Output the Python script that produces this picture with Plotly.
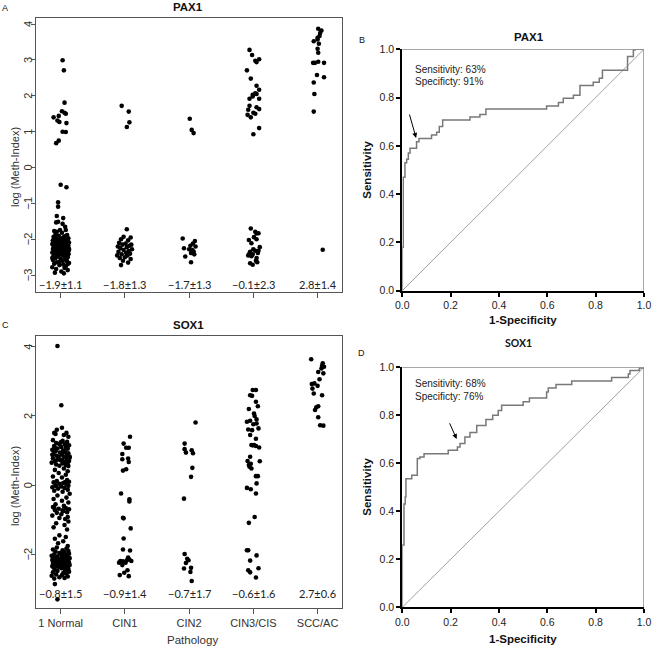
import plotly.graph_objects as go

W, H = 652, 647


def px(x):
    return x / W


def py(y):
    return 1 - y / H


# ---------------- data ----------------
categories = ["1 Normal", "CIN1", "CIN2", "CIN3/CIS", "SCC/AC"]
pax1_stats = ["−1.9±1.1", "−1.8±1.3", "−1.7±1.3", "−0.1±2.3", "2.8±1.4"]
sox1_stats = ["−0.8±1.5", "−0.9±1.4", "−0.7±1.7", "−0.6±1.6", "2.7±0.6"]
pax1_yticks = [-3, -2, -1, 0, 1, 2, 3, 4]
sox1_yticks = [-2, 0, 2, 4]

# PAX1 log(Meth-Index) per pathology group, with horizontal jitter offsets
pax1_normal_y = [2.99, 2.71, 1.81, 1.40, 1.44, 1.57, 1.53, 1.50, 1.31, 1.27, 1.24, 1.00, 0.99, 0.75, 0.68,
                 -0.48, -0.55, -0.97, -1.09, -1.35, -1.41, -1.51, -1.53, -1.65, -1.74, -1.74, -1.79, -1.57, -1.77,
                 -1.82, -1.85, -1.88, -1.90, -1.92, -1.93, -1.95, -1.96, -1.97, -1.98,
                 -2.00, -2.00, -2.01, -2.02, -2.03, -2.04, -2.05, -2.06, -2.07, -2.08,
                 -2.09, -2.10, -2.10, -2.11, -2.12, -2.13, -2.14, -2.15, -2.16, -2.17,
                 -2.18, -2.19, -2.20, -2.20, -2.21, -2.22, -2.23, -2.24, -2.25, -2.26,
                 -2.27, -2.28, -2.29, -2.30, -2.30, -2.31, -2.32, -2.33, -2.34, -2.35,
                 -2.36, -2.37, -2.38, -2.39, -2.40, -2.41, -2.42, -2.43, -2.44, -2.45,
                 -2.46, -2.48, -2.50, -2.52, -2.54, -2.56, -2.58, -2.60, -2.62, -2.64,
                 -2.66, -2.68, -2.70, -2.72, -2.75, -2.78, -2.80, -2.83, -2.86, -2.90,
                 -2.93, -2.95,
                 -2.02, -2.06, -2.11, -2.15, -2.19, -2.24, -2.28, -2.33, -2.37, -2.42,
                 -2.05, -2.09, -2.14, -2.18, -2.23, -2.27, -2.31, -2.36, -2.40, -2.47,
                 -2.03, -2.13, -2.21, -2.26, -2.35, -2.44, -2.52, -2.57, -2.63, -2.69]
pax1_normal_dx = [0.03, 0.05, 0.06, -0.11, -0.03, 0.02, 0.06, 0.08, -0.05, -0.02, 0.09, 0.03, 0.08, -0.03, -0.07,
                  0.0, 0.09, -0.04, -0.04, -0.06, 0.04, -0.04, -0.07, 0.07, 0.08, -0.01, -0.06, 0.03, -0.10,
                  0.02, -0.08, 0.10, -0.03, 0.06, -0.11, 0.04, -0.06, 0.12, 0.0,
                  -0.09, 0.07, -0.02, 0.11, -0.12, 0.05, -0.05, 0.09, -0.10, 0.01,
                  0.13, -0.07, 0.06, -0.01, 0.10, -0.13, 0.03, -0.04, 0.08, -0.09,
                  0.12, -0.06, 0.0, 0.09, -0.11, 0.05, -0.02, 0.11, -0.08, 0.03,
                  -0.12, 0.07, -0.05, 0.13, -0.03, 0.04, -0.10, 0.10, -0.07, 0.01,
                  0.08, -0.13, 0.06, -0.01, 0.12, -0.09, 0.02, -0.05, 0.09, -0.11,
                  0.05, -0.04, 0.11, -0.08, 0.0, 0.07, -0.12, 0.03, 0.10, -0.06,
                  0.13, -0.10, 0.04, -0.02, 0.08, -0.13, 0.06, -0.07, 0.11, 0.01,
                  -0.09, 0.05,
                  0.01, -0.06, 0.08, -0.10, 0.04, 0.11, -0.03, 0.06, -0.08, 0.12,
                  -0.12, 0.03, -0.05, 0.09, -0.01, 0.13, -0.09, 0.05, -0.04, 0.10,
                  0.07, -0.11, 0.02, 0.12, -0.07, 0.04, -0.13, 0.09, -0.02, 0.11]

pax1_cin1_y = [1.72, 1.56, 1.26, 1.13, -1.72, -1.93, -1.95, -2.00, -2.03, -2.10, -2.12, -2.15, -2.15, -2.18,
               -2.20, -2.22, -2.25, -2.28, -2.30, -2.33, -2.35, -2.38, -2.40, -2.42, -2.45, -2.45, -2.50,
               -2.52, -2.55, -2.60, -2.65, -2.72]
pax1_cin1_dx = [-0.05, 0.06, 0.07, 0.03, 0.03, -0.02, 0.09, -0.06, 0.05, -0.09, 0.01, 0.10, -0.04, 0.07,
                -0.11, 0.03, -0.07, 0.11, -0.02, 0.06, -0.10, 0.02, 0.08, -0.05, -0.12, 0.04, 0.0,
                -0.08, 0.09, -0.03, 0.05, -0.06]

pax1_cin2_y = [1.36, 1.05, 0.96, -1.98, -2.05, -2.12, -2.18, -2.25, -2.28, -2.30, -2.34, -2.38, -2.48, -2.42,
               -2.64, -2.20]
pax1_cin2_dx = [0.01, 0.04, 0.07, -0.10, 0.09, 0.06, 0.02, -0.08, 0.0, 0.05, 0.07, 0.03, -0.06, 0.08,
                0.03, 0.10]

pax1_cin3_y = [3.28, 3.14, 2.98, 3.02, 2.94, 2.71, 2.48, 2.28, 2.17, 2.07, 2.03, 2.05, 1.92, 1.92, 1.98,
               1.72, 1.68, 1.63, 1.61, 1.53, 1.47, 1.40, 1.50, 1.10, 0.93,
               -1.70, -1.79, -1.84, -1.83, -1.94, -2.02, -2.00, -2.11, -2.22, -2.28, -2.32, -2.32, -2.39,
               -2.42, -2.45, -2.47, -2.52, -2.67, -2.71, -2.60, -2.64, -2.35, -2.38]
pax1_cin3_dx = [-0.06, -0.02, 0.03, 0.09, 0.05, -0.10, -0.04, 0.05, 0.09, 0.03, -0.01, 0.05, -0.06, 0.09, -0.01,
                -0.06, 0.05, 0.09, -0.08, 0.0, -0.09, -0.04, 0.03, 0.09, 0.0,
                -0.04, 0.03, 0.05, 0.08, 0.01, -0.07, 0.05, -0.03, 0.10, 0.0, 0.03, 0.08, -0.06,
                -0.01, -0.08, -0.03, 0.05, -0.05, -0.01, 0.04, 0.06, -0.05, 0.07]

pax1_scc_y = [3.87, 3.82, 3.52, 3.62, 3.67, 3.57, 3.45, 3.31, 2.92, 2.92, 2.95, 2.92, 2.58, 2.52, 2.37,
              2.05, 1.56, -2.29, 3.75, 3.20]
pax1_scc_dx = [0.01, 0.06, -0.06, 0.0, 0.03, 0.0, 0.02, 0.0, -0.07, -0.04, 0.01, 0.10, -0.01, 0.10, -0.06,
               -0.05, -0.06, 0.08, 0.04, 0.01]

# SOX1 log(Meth-Index) per pathology group, with horizontal jitter offsets
sox1_normal_y = [4.02, 2.31, 1.66, 1.60, 1.51, 1.51, 1.48, 1.45, 1.40,
                 1.30, 1.28, 1.25, 1.22, 1.20, 1.18, 1.15, 1.13, 1.10, 1.08,
                 1.06, 1.05, 1.02, 1.00, 0.98, 0.96, 0.94, 0.92, 0.90, 0.88,
                 0.86, 0.85, 0.83, 0.81, 0.80, 0.78, 0.76, 0.74, 0.72, 0.70,
                 0.69, 0.67, 0.65, 0.63, 0.61, 0.60, 0.58, 0.56, 0.55,
                 1.12, 0.95, 0.75, 0.68, 1.24, 0.88, 1.17, 0.79, 1.03, 0.71,
                 0.48, 0.44, 0.40, 0.35, 0.30, 0.25, 0.22,
                 0.15, 0.12, 0.10, 0.08, 0.06, 0.04, 0.02, 0.00, -0.02, -0.04, -0.06, -0.08, -0.10, -0.13,
                 -0.16, -0.19, 0.09, -0.03,
                 -0.25, -0.30, -0.36, -0.40, -0.45, -0.50, -0.55,
                 -0.60, -0.63, -0.66, -0.68, -0.70, -0.72, -0.75, -0.78, -0.80, -0.84, -0.88, -0.92, -0.95,
                 -0.98, -0.65, -0.73,
                 -1.05, -1.10, -1.15, -1.22, -1.28,
                 -1.45, -1.50, -1.55, -1.62, -1.68,
                 -1.76, -1.80, -1.83, -1.86, -1.88, -1.90, -1.92, -1.94, -1.96, -1.98,
                 -2.00, -2.01, -2.02, -2.04, -2.05, -2.06, -2.08, -2.09, -2.10, -2.11,
                 -2.12, -2.13, -2.14, -2.15, -2.16, -2.17, -2.18, -2.19, -2.20, -2.21,
                 -2.22, -2.23, -2.24, -2.25, -2.26, -2.27, -2.28, -2.29, -2.30, -2.31,
                 -2.32, -2.33, -2.34, -2.35, -2.36, -2.37, -2.38, -2.40, -2.42, -2.44,
                 -2.46, -2.48, -2.50, -2.52, -2.54, -2.56, -2.58, -2.60, -2.62, -2.64,
                 -2.66, -2.68, -2.70,
                 -2.05, -2.15, -2.25, -2.35, -2.45, -2.12, -2.22, -2.32, -1.95, -2.08, -2.18, -2.28, -2.38,
                 -2.86, -3.30]
sox1_normal_dx = [-0.05, 0.01, 0.02, -0.06, 0.09, -0.10, -0.08, 0.05, 0.12,
                  -0.12, 0.03, 0.10, -0.07, 0.06, -0.02, 0.13, -0.10, 0.01, 0.08,
                  -0.05, 0.11, -0.13, 0.04, -0.08, 0.07, -0.01, 0.12, -0.11, 0.02,
                  0.09, -0.06, 0.14, -0.03, 0.05, -0.12, 0.10, -0.04, 0.00, 0.13,
                  -0.09, 0.06, -0.14, 0.03, 0.11, -0.07, 0.08, -0.02, 0.12,
                  -0.10, 0.04, -0.05, 0.09, 0.00, -0.13, 0.07, 0.14, -0.08, 0.02,
                  0.05, -0.09, 0.11, -0.03, 0.08, -0.12, 0.02,
                  0.10, -0.06, 0.13, -0.11, 0.04, -0.02, 0.09, -0.08, 0.12, 0.01, -0.13, 0.06, -0.04, 0.11,
                  -0.10, 0.03, 0.07, -0.07, 0.14,
                  -0.05, 0.09, -0.11, 0.02, 0.12, -0.08, 0.05,
                  -0.12, 0.08, -0.03, 0.13, -0.09, 0.04, 0.10, -0.06, 0.01, -0.13, 0.11, -0.02, 0.07,
                  -0.10, 0.03, 0.12,
                  -0.07, 0.06, -0.11, 0.10, -0.02,
                  0.08, -0.09, 0.04, -0.04, 0.11,
                  -0.06, 0.09, -0.12, 0.03, 0.12, -0.08, 0.06, -0.02, 0.13, -0.10,
                  0.01, 0.08, -0.14, 0.05, -0.05, 0.11, -0.09, 0.02, 0.14, -0.11,
                  0.07, -0.03, 0.10, -0.13, 0.04, -0.07, 0.12, 0.00, -0.10, 0.09,
                  -0.04, 0.13, -0.12, 0.06, -0.01, 0.11, -0.08, 0.03, 0.14, -0.06,
                  0.08, -0.13, 0.05, -0.03, 0.10, -0.11, 0.01, 0.12, -0.09, 0.07,
                  -0.05, 0.13, -0.12, 0.04, 0.09, -0.07, 0.02, -0.14, 0.11, -0.02,
                  0.06, -0.10, 0.08,
                  0.00, 0.06, -0.04, 0.10, -0.08, -0.11, 0.12, 0.03, -0.06, 0.09, -0.01, 0.05, -0.09,
                  -0.05, -0.07]

sox1_cin1_y = [1.40, 1.20, 1.08, 1.08, 0.90, 0.75, 0.77, 0.67, 0.46, 0.42, -0.24, -0.41, -0.47, -0.94, -0.96,
               -1.25, -1.54, -1.86, -1.89, -2.19, -2.20, -2.17, -2.15, -2.19, -2.09, -2.24, -2.24, -2.31,
               -2.46, -2.53, -2.60, -2.63]
sox1_cin1_dx = [0.08, -0.02, 0.02, 0.06, -0.04, -0.04, 0.05, 0.06, 0.02, -0.03, -0.06, 0.07, 0.07, -0.03, -0.02,
                0.09, -0.02, -0.03, 0.08, -0.07, -0.03, 0.03, 0.07, 0.10, 0.05, -0.09, 0.01, -0.04,
                0.04, -0.01, -0.08, 0.06]

sox1_cin2_y = [1.81, 1.20, 1.04, 0.94, 1.01, 0.92, 0.50, 0.24, -0.39, -1.99, -2.17, -2.25, -2.13, -2.39,
               -2.41, -2.51, -2.77]
sox1_cin2_dx = [0.10, -0.07, -0.07, -0.05, 0.04, 0.06, 0.05, 0.03, -0.08, -0.07, -0.01, -0.05, -0.03, 0.03,
                -0.08, 0.02, 0.04]

sox1_cin3_y = [2.75, 2.75, 2.60, 2.58, 2.41, 2.28, 2.20, 2.07, 1.83, 1.86, 1.76, 1.90, 1.61, 1.59, 1.64,
               1.34, 1.16, 1.16, 1.13, 1.09, 0.82, 0.70, 0.62, 0.53, 0.48, 0.69, 0.26, 0.26, 0.05, -0.08,
               -0.12, -0.24, -0.92, -1.09, -1.88, -1.88, -2.03, -2.18, -2.40, -2.46, -2.52, -2.67,
               1.78, 1.15, 0.58, 2.00, 1.45]
sox1_cin3_dx = [-0.01, 0.04, -0.05, -0.02, 0.04, 0.07, -0.07, 0.01, -0.10, -0.05, 0.0, 0.05, -0.08, -0.02, 0.08,
                0.04, -0.03, 0.01, 0.04, 0.09, -0.05, -0.09, -0.04, -0.06, -0.03, 0.10, 0.04, 0.07, 0.05, -0.10,
                -0.04, 0.04, 0.02, -0.07, -0.08, -0.10, 0.05, -0.05, 0.08, -0.08, -0.05, 0.04,
                0.05, -0.01, -0.07, 0.02, -0.05]

sox1_scc_y = [3.64, 3.52, 3.42, 3.37, 3.27, 3.23, 3.06, 2.92, 2.94, 2.87, 2.79, 2.65, 2.60, 2.28, 2.25,
              2.17, 1.96, 1.73, 1.72, 3.45]
sox1_scc_dx = [-0.10, 0.08, 0.10, 0.06, 0.01, 0.09, 0.03, -0.09, -0.05, 0.0, -0.08, -0.06, 0.07, 0.01, -0.02,
               -0.04, 0.01, 0.04, 0.09, 0.07]

# ROC curves (1-Specificity, Sensitivity) corner points
pax1_fpr = [0, 0, 0.004, 0.011, 0.018, 0.025, 0.032, 0.059, 0.069, 0.121, 0.142, 0.153, 0.167, 0.28, 0.321,
            0.346, 0.597, 0.646, 0.666, 0.708, 0.735, 0.79, 0.815, 0.828, 0.932, 0.956, 0.963, 1.0]
pax1_tpr = [0, 0.18, 0.47, 0.53, 0.545, 0.57, 0.59, 0.617, 0.63, 0.645, 0.656, 0.68, 0.707, 0.72, 0.73,
            0.753, 0.765, 0.78, 0.797, 0.81, 0.85, 0.863, 0.88, 0.913, 0.97, 0.997, 1.0, 1.0]
sox1_fpr = [0, 0, 0.007, 0.012, 0.015, 0.039, 0.062, 0.073, 0.09, 0.19, 0.228, 0.239, 0.259, 0.28, 0.308,
            0.346, 0.374, 0.397, 0.411, 0.5, 0.526, 0.597, 0.604, 0.636, 0.701, 0.866, 0.935, 0.942, 0.981, 1.0]
sox1_tpr = [0, 0.26, 0.43, 0.46, 0.536, 0.55, 0.62, 0.626, 0.64, 0.654, 0.668, 0.682, 0.71, 0.728, 0.758,
            0.783, 0.8, 0.82, 0.842, 0.856, 0.872, 0.897, 0.914, 0.928, 0.943, 0.958, 0.972, 0.987, 0.997, 1.0]
roc_ticks = [0.0, 0.2, 0.4, 0.6, 0.8, 1.0]

pax1_groups = [(pax1_normal_y, pax1_normal_dx), (pax1_cin1_y, pax1_cin1_dx), (pax1_cin2_y, pax1_cin2_dx),
               (pax1_cin3_y, pax1_cin3_dx), (pax1_scc_y, pax1_scc_dx)]
sox1_groups = [(sox1_normal_y, sox1_normal_dx), (sox1_cin1_y, sox1_cin1_dx), (sox1_cin2_y, sox1_cin2_dx),
               (sox1_cin3_y, sox1_cin3_dx), (sox1_scc_y, sox1_scc_dx)]

# ---------------- figure ----------------
SANS = "Liberation Sans, Arial, sans-serif"
CAL = "Lato, Carlito, sans-serif"

fig = go.Figure()


def add_strip(groups, xa, ya):
    xs, ys = [], []
    for i, (yv, dx) in enumerate(groups):
        for y, d in zip(yv, dx):
            xs.append(i + 1 + d)
            ys.append(y)
    fig.add_trace(go.Scatter(x=xs, y=ys, mode="markers", xaxis=xa, yaxis=ya, showlegend=False,
                             hoverinfo="skip", marker=dict(color="black", size=4.6, line=dict(width=0))))


add_strip(pax1_groups, "x", "y")
add_strip(sox1_groups, "x3", "y3")

for xa, ya, fpr, tpr in [("x2", "y2", pax1_fpr, pax1_tpr), ("x4", "y4", sox1_fpr, sox1_tpr)]:
    fig.add_trace(go.Scatter(x=[0, 1], y=[0, 1], mode="lines", xaxis=xa, yaxis=ya, showlegend=False,
                             hoverinfo="skip", line=dict(color="#a0a0a0", width=1)))
    fig.add_trace(go.Scatter(x=fpr, y=tpr, mode="lines", xaxis=xa, yaxis=ya, showlegend=False,
                             hoverinfo="skip", line=dict(color="#787878", width=1.5, shape="hv")))

tickfont = dict(family=SANS, size=11, color="#333333")
strip_x = dict(range=[0.616, 5.38], tickvals=[1, 2, 3, 4, 5], ticktext=categories, ticks="outside",
               ticklen=5, tickcolor="#555555", showline=True, mirror=True, linecolor="#555555", linewidth=1,
               showgrid=False, zeroline=False, tickfont=tickfont, automargin=False)
strip_y = dict(ticks="outside", ticklen=4, tickcolor="#555555", showline=True, mirror=True,
               linecolor="#555555", linewidth=1, showgrid=False, zeroline=False, showticklabels=False,
               automargin=False)
roc_ax = dict(range=[0, 1], tickvals=roc_ticks, ticktext=["%.1f" % t for t in roc_ticks], ticks="outside",
              ticklen=4, tickwidth=1.5, tickcolor="black", showline=True, mirror=False, linecolor="black",
              linewidth=2, showgrid=False, zeroline=False, automargin=False,
              tickfont=dict(family=SANS, size=10.5, color="#222222"))

fig.update_layout(
    width=W, height=H, margin=dict(l=0, r=0, t=0, b=0, autoexpand=False),
    paper_bgcolor="white", plot_bgcolor="white",
    xaxis=dict(strip_x, domain=[px(36), px(342)], anchor="y", showticklabels=False),
    yaxis=dict(strip_y, domain=[py(292), py(18)], anchor="x", range=[-3.47, 4.17], tickvals=pax1_yticks),
    xaxis3=dict(strip_x, domain=[px(36), px(342)], anchor="y3"),
    yaxis3=dict(strip_y, domain=[py(608), py(336)], anchor="x3", range=[-3.55, 4.31], tickvals=sox1_yticks),
    xaxis2=dict(roc_ax, domain=[px(402.3), px(644)], anchor="y2"),
    yaxis2=dict(roc_ax, domain=[py(290.7), py(49.3)], anchor="x2"),
    xaxis4=dict(roc_ax, domain=[px(402.3), px(644)], anchor="y4"),
    yaxis4=dict(roc_ax, domain=[py(607.3), py(367.3)], anchor="x4"),
)

# gray top/right borders of ROC panels
for xa, ya in [("x2", "y2"), ("x4", "y4")]:
    fig.add_shape(type="line", xref=xa, yref=ya, x0=0, x1=1, y0=1, y1=1, line=dict(color="#8a8a8a", width=1.5))
    fig.add_shape(type="line", xref=xa, yref=ya, x0=1, x1=1, y0=0, y1=1, line=dict(color="#8a8a8a", width=1.5))

ann = []


def text(x, y, s, size=11, bold=False, family=SANS, xref="paper", yref="paper", xanchor="center",
         angle=0, color="#111111"):
    ann.append(dict(x=x, y=y, xref=xref, yref=yref, text=("<b>%s</b>" % s) if bold else s, showarrow=False,
                    xanchor=xanchor, yanchor="middle", textangle=angle,
                    font=dict(family=family, size=size, color=color)))


# rotated y tick labels of the strip charts (R style)
for t in pax1_yticks:
    text(px(28), t, ("−%d" % -t) if t < 0 else str(t), size=11, yref="y", angle=-90, color="#333333")
for t in sox1_yticks:
    text(px(28), t, ("−%d" % -t) if t < 0 else str(t), size=11, yref="y3", angle=-90, color="#333333")

# panel letters
text(px(5), py(8), "A", size=9)
text(px(5), py(325), "C", size=9)
text(px(361.7), py(40), "B", size=9)
text(px(361.7), py(352.7), "D", size=9)
# titles
text(px(188), py(7), "PAX1", size=11.5, bold=True)
text(px(188), py(325), "SOX1", size=11.5, bold=True)
text(px(529), py(36.7), "PAX1", size=11.5, bold=True)
text(px(518), py(342.7), "SOX1", size=10.5, bold=True, family=CAL)
# axis titles
text(px(15), py(167), "log (Meth-Index)", size=11, angle=-90, color="#333333")
text(px(15), py(486), "log (Meth-Index)", size=11, angle=-90, color="#333333")
text(px(192), py(640), "Pathology", size=11.5, color="#333333")
text(px(366.7), py(170), "Sensitivity", size=11.5, bold=True, angle=-90)
text(px(366.7), py(487), "Sensitivity", size=11.5, bold=True, angle=-90)
text(px(523), py(320), "1-Specificity", size=11.5, bold=True)
text(px(523), py(639.3), "1-Specificity", size=11.5, bold=True)
# group statistics
for i, s in enumerate(pax1_stats):
    text(i + 1, -3.25, s, size=11, family=CAL, xref="x", yref="y", color="#222222")
for i, s in enumerate(sox1_stats):
    text(i + 1, -3.12, s, size=11, family=CAL, xref="x3", yref="y3", color="#222222")
# ROC cut-off notes
text(0.043, 0.918, "Sensitivity: 63%", size=10, xref="x2", yref="y2", xanchor="left", color="#222222")
text(0.043, 0.866, "Specificty: 91%", size=10, xref="x2", yref="y2", xanchor="left", color="#222222")
text(0.043, 0.933, "Sensitivity: 68%", size=10, xref="x4", yref="y4", xanchor="left", color="#222222")
text(0.043, 0.880, "Specificty: 76%", size=10, xref="x4", yref="y4", xanchor="left", color="#222222")

for xa, ya, hx, hy, tx, ty in [("x2", "y2", 0.057, 0.633, 0.028, 0.736), ("x4", "y4", 0.225, 0.701, 0.193, 0.773)]:
    ann.append(dict(x=hx, y=hy, xref=xa, yref=ya, ax=tx, ay=ty, axref=xa, ayref=ya, text="", showarrow=True,
                    arrowhead=2, arrowsize=1, arrowwidth=1, arrowcolor="black"))

fig.update_layout(annotations=ann)
fig.write_html("out.html", config={"displayModeBar": False},
               post_script="document.body.style.margin='0';document.body.style.padding='0';"
                           "document.documentElement.style.overflow='hidden';")
